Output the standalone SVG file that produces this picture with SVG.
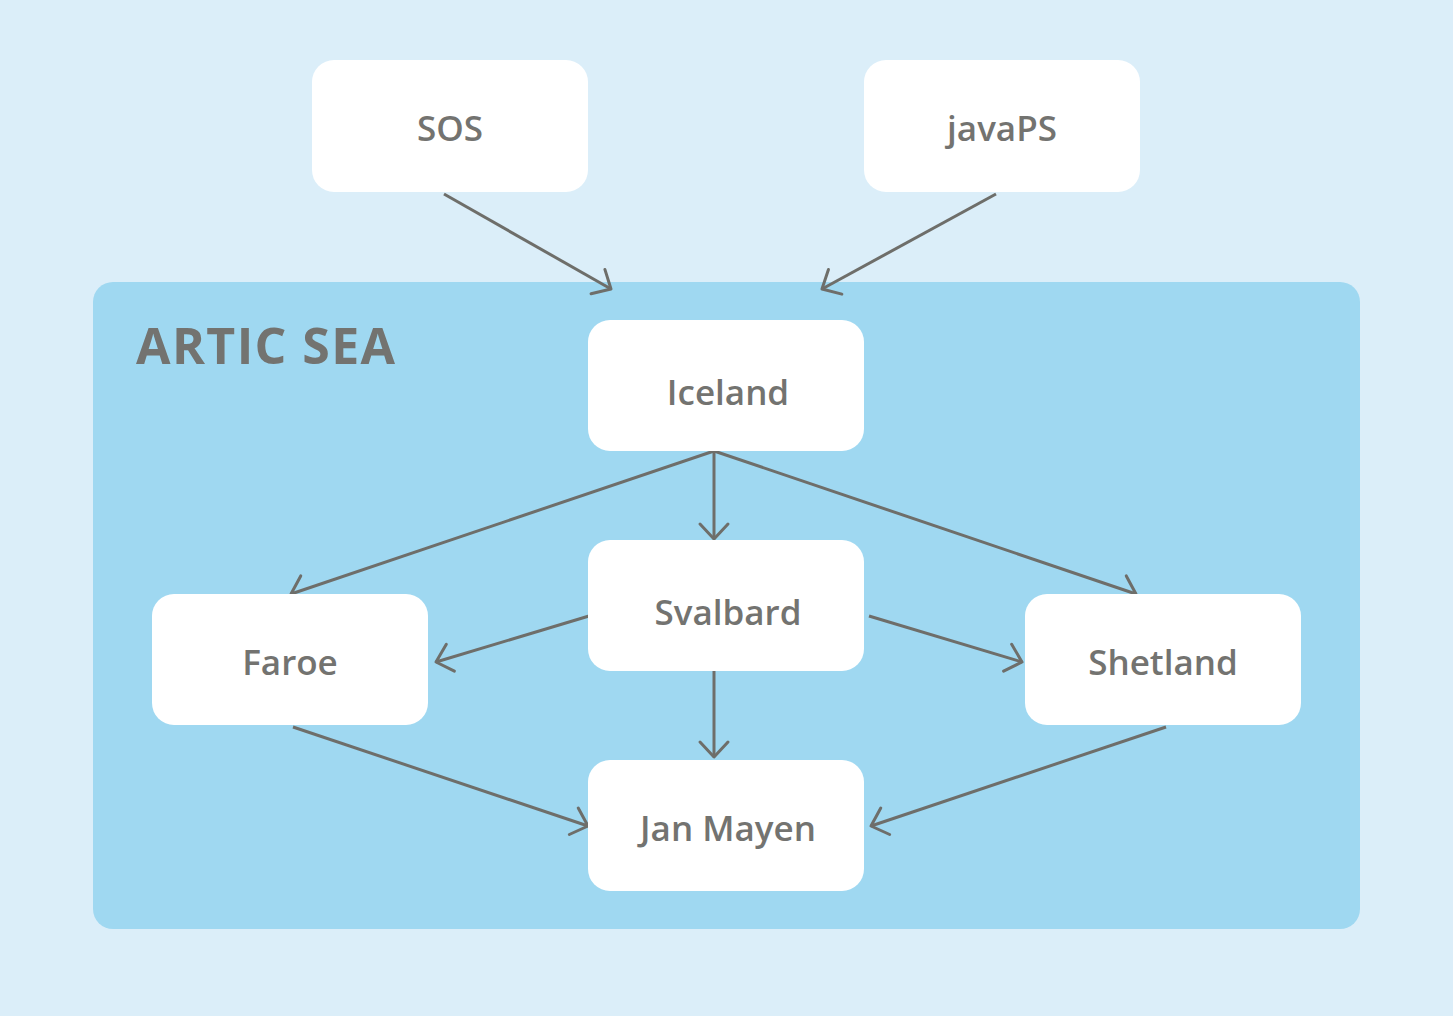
<svg xmlns="http://www.w3.org/2000/svg" width="1453" height="1016" viewBox="0 0 1453 1016">
<style>
.node rect{fill:#ffffff}
.node text{font-family:"Open Sans","Noto Sans",sans-serif;font-weight:600;font-size:35px;fill:#737370;text-anchor:middle}
.edge{stroke:#6e6e6a;stroke-width:3;fill:none;marker-end:url(#arr)}
.title{font-family:"Open Sans","Noto Sans",sans-serif;font-weight:700;font-size:50px;fill:#737370;letter-spacing:1.4px}
</style>
<defs>
<marker id="arr" markerUnits="userSpaceOnUse" markerWidth="40" markerHeight="40" viewBox="-20 -20 40 40" refX="0" refY="0" orient="auto">
<path d="M-15,-14 L0,0 L-15,14" fill="none" stroke="#6e6e6a" stroke-width="3" stroke-linecap="round" stroke-linejoin="round"/>
</marker>
</defs>
<rect width="1453" height="1016" fill="#dbeef9"/>
<g id="artic-sea">
<rect x="93" y="282" width="1267" height="647" rx="20" fill="#9fd8f1"/>
<text class="title" x="136" y="364">ARTIC SEA</text>
</g>
<g id="connectors">
<line class="edge" x1="444" y1="194" x2="611" y2="289"/>
<line class="edge" x1="996" y1="194" x2="822" y2="289"/>
<line class="edge" x1="714" y1="451" x2="714" y2="539"/>
<line class="edge" x1="714" y1="451" x2="291" y2="594"/>
<line class="edge" x1="714" y1="451" x2="1136" y2="594"/>
<line class="edge" x1="589" y1="616" x2="436" y2="662"/>
<line class="edge" x1="869" y1="616" x2="1022" y2="662"/>
<line class="edge" x1="714" y1="667" x2="714" y2="757"/>
<line class="edge" x1="293" y1="727" x2="588" y2="826"/>
<line class="edge" x1="1166" y1="727" x2="871" y2="826"/>
</g>
<g id="sos" class="node"><rect x="312" y="60" width="276" height="132" rx="22"/><text x="450" y="141">SOS</text></g>
<g id="javaps" class="node"><rect x="864" y="60" width="276" height="132" rx="22"/><text x="1002" y="141">javaPS</text></g>
<g id="iceland" class="node"><rect x="588" y="320" width="276" height="131" rx="22"/><text x="728" y="405">Iceland</text></g>
<g id="svalbard" class="node"><rect x="588" y="540" width="276" height="131" rx="22"/><text x="728" y="625">Svalbard</text></g>
<g id="faroe" class="node"><rect x="152" y="594" width="276" height="131" rx="22"/><text x="290" y="675">Faroe</text></g>
<g id="shetland" class="node"><rect x="1025" y="594" width="276" height="131" rx="22"/><text x="1163" y="675">Shetland</text></g>
<g id="jan-mayen" class="node"><rect x="588" y="760" width="276" height="131" rx="22"/><text x="728" y="841">Jan Mayen</text></g>
</svg>
